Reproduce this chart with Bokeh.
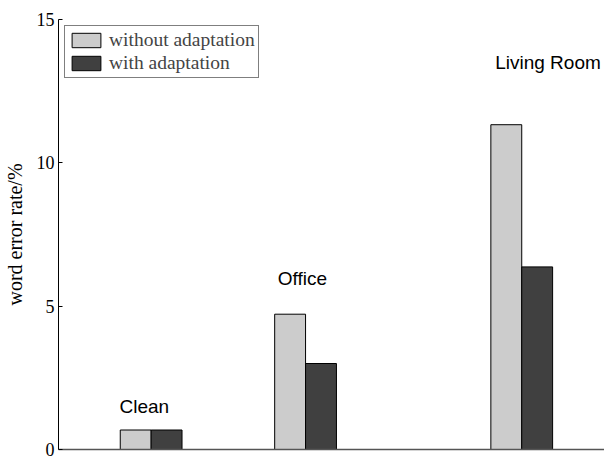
from bokeh.plotting import figure
from bokeh.models import Range1d, ColumnDataSource, Legend, LegendItem, FixedTicker, Label
from bokeh.embed import file_html
from bokeh.resources import INLINE

# Data
conditions = ["Clean", "Office", "Living Room"]
without_adaptation = [0.68, 4.72, 11.33]
with_adaptation = [0.68, 3.0, 6.37]
y_ticks = [0, 5, 10, 15]

# Layout positions (x in bar-width units)
group_x = [3, 8, 15]
bar_w = 1.0
label_x = [2.78, 7.9, 15.85]
label_y = [1.5, 5.95, 13.5]

p = figure(width=604, height=460, output_backend="svg", toolbar_location=None,
           x_range=Range1d(0, 17.68), y_range=Range1d(0, 15),
           min_border_left=56, min_border_right=0, min_border_top=19, min_border_bottom=11)
p.outline_line_color = None
p.xgrid.visible = False
p.ygrid.visible = False
p.background_fill_color = "white"

src1 = ColumnDataSource(dict(x=[g - bar_w / 2 for g in group_x], top=without_adaptation))
src2 = ColumnDataSource(dict(x=[g + bar_w / 2 for g in group_x], top=with_adaptation))
r1 = p.vbar(x="x", top="top", bottom=0, width=bar_w, source=src1,
            fill_color="#cccccc", line_color="black", line_width=1)
r2 = p.vbar(x="x", top="top", bottom=0, width=bar_w, source=src2,
            fill_color="#404040", line_color="black", line_width=1)

for name, lx, ly in zip(conditions, label_x, label_y):
    p.add_layout(Label(x=lx, y=ly, text=name, text_align="center", text_baseline="middle",
                       text_font="Liberation Sans", text_font_size="19px", text_color="black"))

# Axes
p.yaxis.ticker = FixedTicker(ticks=y_ticks)
p.yaxis.major_tick_in = 4
p.yaxis.major_tick_out = 0
p.yaxis.minor_tick_line_color = None
p.yaxis.axis_line_color = "black"
p.yaxis.major_tick_line_color = "black"
p.yaxis.major_label_text_font = "Liberation Serif"
p.yaxis.major_label_text_font_size = "18px"
p.yaxis.major_label_text_color = "black"
p.yaxis.major_label_standoff = 4
p.yaxis.axis_label = "word error rate/%"
p.yaxis.axis_label_text_font = "Liberation Serif"
p.yaxis.axis_label_text_font_size = "20px"
p.yaxis.axis_label_text_font_style = "normal"
p.yaxis.axis_label_text_color = "black"
p.yaxis.axis_label_standoff = 8

p.xaxis.ticker = FixedTicker(ticks=[])
p.xaxis.axis_line_color = "#555555"
p.xaxis.axis_line_width = 1.5
p.xaxis.major_tick_line_color = None
p.xaxis.minor_tick_line_color = None
p.xaxis.major_label_text_font_size = "0px"

legend = Legend(items=[LegendItem(label="without adaptation", renderers=[r1]),
                       LegendItem(label="with adaptation", renderers=[r2])],
                location="top_left", margin=6, padding=3, spacing=1,
                glyph_width=36, glyph_height=18, label_standoff=5,
                label_text_font="Liberation Serif", label_text_font_size="19.5px",
                label_height=18,
                border_line_color="black", border_line_width=1,
                background_fill_alpha=1)
p.add_layout(legend)

open("out.html", "w").write(file_html(p, INLINE))
